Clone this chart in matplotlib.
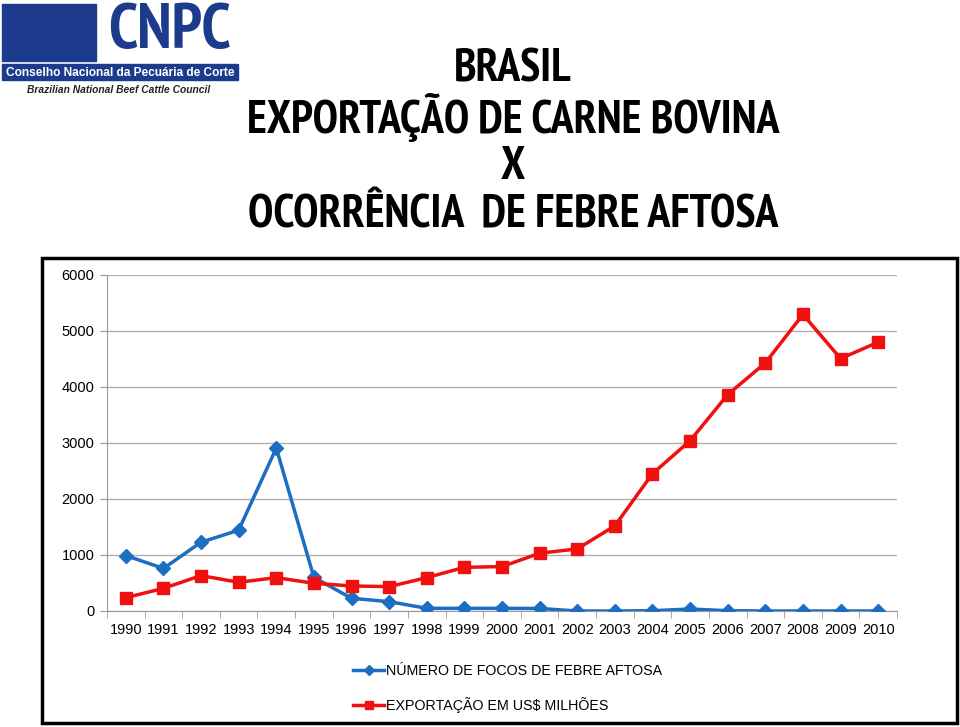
import matplotlib.pyplot as plt
import numpy as np
from matplotlib.patches import Rectangle

# data
years = [str(y) for y in range(1990, 2011)]
focos = [990, 760, 1228, 1443, 2910, 600, 227, 167, 48, 48, 48, 45,
         0, 0, 5, 36, 5, 0, 0, 0, 0]
exportacao = [238, 405, 632, 513, 596, 495, 447, 435, 596, 780, 793, 1032,
              1109, 1521, 2451, 3041, 3864, 4431, 5295, 4508, 4800]
yticks = [0, 1000, 2000, 3000, 4000, 5000, 6000]

blue = '#1b6ec2'
red = '#f01010'
navy = '#1d3b8c'

plt.rcParams['font.family'] = ['Liberation Sans', 'DejaVu Sans']
narrow = ['PT Sans Narrow', 'Liberation Sans']

fig = plt.figure(figsize=(9.6, 7.27), dpi=100)
W, H = 960, 727

# outer border of the chart
fig.patches.append(Rectangle((42 / W, 1 - 723 / H), (957 - 42) / W, (723 - 258) / H,
                             transform=fig.transFigure, fill=False,
                             edgecolor='black', linewidth=2.5))

# logo
fig.text(169 / W, 1 - 32 / H, 'CNPC', fontsize=46, fontweight='bold', color=navy,
         ha='center', va='center', family=narrow)
fig.patches.append(Rectangle((2 / W, 1 - 61 / H), 94 / W, 57 / H,
                             transform=fig.transFigure, color=navy))
fig.patches.append(Rectangle((2 / W, 1 - 80 / H), 236 / W, 16 / H,
                             transform=fig.transFigure, color=navy))
fig.text(120 / W, 1 - 72.5 / H, 'Conselho Nacional da Pecuária de Corte', fontsize=8.6,
         fontweight='bold', color='white', ha='center', va='center')
fig.text(119 / W, 1 - 90 / H, 'Brazilian National Beef Cattle Council', fontsize=7.4,
         fontweight='bold', style='italic', color='#222222', ha='center', va='center')

# title
for txt, yy in [('BRASIL', 70), ('EXPORTAÇÃO DE CARNE BOVINA', 118),
                ('X', 167), ('OCORRÊNCIA  DE FEBRE AFTOSA', 215)]:
    fig.text(513 / W, 1 - yy / H, txt, fontsize=33, fontweight='bold', ha='center',
             va='center', family=narrow)

ax = fig.add_axes([107 / W, 1 - 611 / H, (897 - 107) / W, (611 - 275) / H])
x = np.arange(len(years))
ax.plot(x, focos, color=blue, linewidth=2.5, marker='D', markersize=7,
        label='NÚMERO DE FOCOS DE FEBRE AFTOSA', zorder=3)
ax.plot(x, exportacao, color=red, linewidth=2.5, marker='s', markersize=9,
        label='EXPORTAÇÃO EM US$ MILHÕES', zorder=3)

ax.set_xlim(-0.5, len(years) - 0.5)
ax.set_ylim(0, 6000)
ax.set_yticks(yticks)
ax.set_xticks(x)
ax.set_xticklabels(years)
ax.set_xticks(np.arange(-0.5, len(years), 1), minor=True)
ax.tick_params(axis='x', which='major', length=0, labelsize=10.5, pad=9)
ax.tick_params(axis='x', which='minor', length=5, color='#999999', direction='out')
ax.tick_params(axis='y', length=5, color='#999999', labelsize=10.5, pad=4)
ax.grid(axis='y', color='#b0b0b0', linewidth=1)
ax.set_axisbelow(True)
for side in ['top', 'right']:
    ax.spines[side].set_visible(False)
for side in ['left', 'bottom']:
    ax.spines[side].set_color('#999999')

ax.legend(loc='upper left', bbox_to_anchor=(340 / W, 1 - 651 / H),
          bbox_transform=fig.transFigure, frameon=False, fontsize=10.3,
          handlelength=2.2, handletextpad=0.1, labelspacing=1.35, markerscale=0.7)

fig.savefig('out.png', dpi=100)
